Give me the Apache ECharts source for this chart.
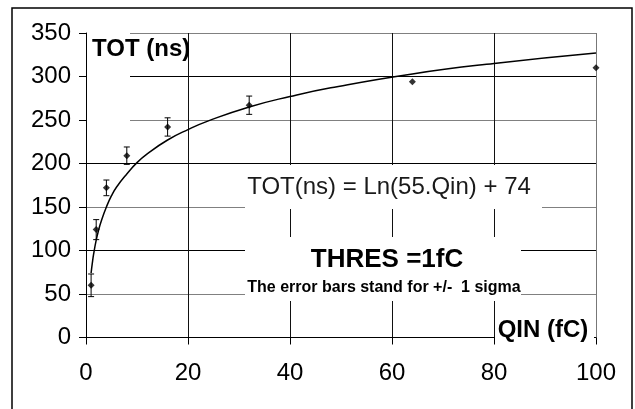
<!DOCTYPE html>
<html>
<head>
<meta charset="utf-8">
<script src="https://cdn.jsdelivr.net/npm/echarts@6/dist/echarts.min.js"></script>
<style>
html,body{margin:0;padding:0;background:#fff;}
#chart{width:635px;height:409px;}
</style>
</head>
<body>
<div id="chart"></div>
<script>
// Measured points (charge in fC, time-over-threshold in ns) and 1-sigma errors
const qin = [1, 2, 4, 8, 16, 32, 64, 100];
const tot = [60, 124, 172, 209, 242, 267, 294, 310];
const sigma = [13, 11.5, 9, 10, 10.5, 10.5, null, null];

// Fitted curve
const fitQin = [1, 1.25, 1.5, 2, 2.5, 3, 4, 5, 6, 8, 10, 12, 16, 20, 24, 32, 40, 48, 64, 80, 100];
const fitTot = [74, 86, 96, 112, 124, 134, 150, 163, 173, 188, 201, 211, 227, 239, 249, 265, 277, 287, 303, 315, 327];

const xTicks = [0, 20, 40, 60, 80, 100];
const yTicks = [0, 50, 100, 150, 200, 250, 300, 350];

const FONT = "'Liberation Sans', Arial, sans-serif";

const chart = echarts.init(document.getElementById('chart'), null, {renderer: 'canvas'});

const pointData = qin.map((q, i) => [q, tot[i]]);
const errData = qin.map((q, i) => sigma[i] == null ? null : [q, tot[i] - sigma[i], tot[i] + sigma[i]]).filter(d => d);
const fitData = fitQin.map((q, i) => [q, fitTot[i]]);

const option = {
  animation: false,
  backgroundColor: '#fff',
  grid: {left: 86, top: 33, right: 39, bottom: 71.5, containLabel: false},
  xAxis: {
    type: 'value', min: xTicks[0], max: xTicks[xTicks.length - 1], interval: 20,
    axisLine: {show: true, onZero: false, lineStyle: {color: '#000', width: 1}},
    axisTick: {show: true, inside: false, length: 7, lineStyle: {color: '#000'}},
    axisLabel: {color: '#000', fontSize: 24, fontFamily: FONT, margin: 24},
    splitLine: {show: true, lineStyle: {color: ['#000', '#111', '#111', '#111', '#111', '#777'], width: 1}}
  },
  yAxis: {
    type: 'value', min: yTicks[0], max: yTicks[yTicks.length - 1], interval: 50,
    axisLine: {show: true, onZero: false, lineStyle: {color: '#000', width: 1}},
    axisTick: {show: true, inside: false, length: 7, lineStyle: {color: '#000'}},
    axisLabel: {color: '#000', fontSize: 24, fontFamily: FONT, margin: 15},
    splitLine: {show: true, lineStyle: {color: ['#000', '#808080'], width: 1}}
  },
  graphic: [
    {type: 'rect', z: 1, silent: true, shape: {x: 12, y: 8, width: 620, height: 430}, style: {fill: 'none', stroke: '#000', lineWidth: 1.5}},
    {type: 'rect', z: 1, silent: true, shape: {x: 87, y: 31, width: 43, height: 118}, style: {fill: '#fff'}},
    {type: 'rect', z: 1, silent: true, shape: {x: 245, y: 165, width: 297, height: 44}, style: {fill: '#fff'}},
    {type: 'rect', z: 1, silent: true, shape: {x: 245, y: 237, width: 276, height: 64}, style: {fill: '#fff'}},
    {type: 'rect', z: 1, silent: true, shape: {x: 495, y: 303, width: 99, height: 40}, style: {fill: '#fff'}},
    {type: 'text', z: 5, silent: true, x: 92, y: 49, style: {text: 'TOT (ns)', font: 'bold 24px ' + FONT, fill: '#000', align: 'left', verticalAlign: 'middle'}},
    {type: 'text', z: 5, silent: true, x: 389, y: 187, style: {text: 'TOT(ns) = Ln(55.Qin) + 74', font: '24px ' + FONT, fill: '#1a1a1a', align: 'center', verticalAlign: 'middle'}},
    {type: 'text', z: 5, silent: true, x: 387, y: 260, style: {text: 'THRES =1fC', font: 'bold 26px ' + FONT, fill: '#000', align: 'center', verticalAlign: 'middle'}},
    {type: 'text', z: 5, silent: true, x: 384, y: 288, style: {text: 'The error bars stand for +/-  1 sigma', font: 'bold 16px ' + FONT, fill: '#000', align: 'center', verticalAlign: 'middle'}},
    {type: 'text', z: 5, silent: true, x: 543, y: 330, style: {text: 'QIN (fC)', font: 'bold 24px ' + FONT, fill: '#000', align: 'center', verticalAlign: 'middle'}}
  ],
  series: [
    {
      type: 'line', data: fitData, smooth: true, showSymbol: false, z: 3,
      lineStyle: {color: '#000', width: 1.5}
    },
    {
      type: 'custom', z: 4, data: errData,
      renderItem: function (params, api) {
        const x = api.value(0);
        const lo = api.coord([x, api.value(1)]);
        const hi = api.coord([x, api.value(2)]);
        const w = 3;
        const st = {stroke: '#000', lineWidth: 1};
        return {
          type: 'group',
          children: [
            {type: 'line', shape: {x1: lo[0], y1: lo[1], x2: hi[0], y2: hi[1]}, style: st},
            {type: 'line', shape: {x1: lo[0] - w, y1: lo[1], x2: lo[0] + w, y2: lo[1]}, style: st},
            {type: 'line', shape: {x1: hi[0] - w, y1: hi[1], x2: hi[0] + w, y2: hi[1]}, style: st}
          ]
        };
      }
    },
    {
      type: 'scatter', data: pointData, symbol: 'diamond', symbolSize: 7, z: 5,
      itemStyle: {color: '#000'}
    }
  ]
};
chart.setOption(option);
</script>
</body>
</html>
